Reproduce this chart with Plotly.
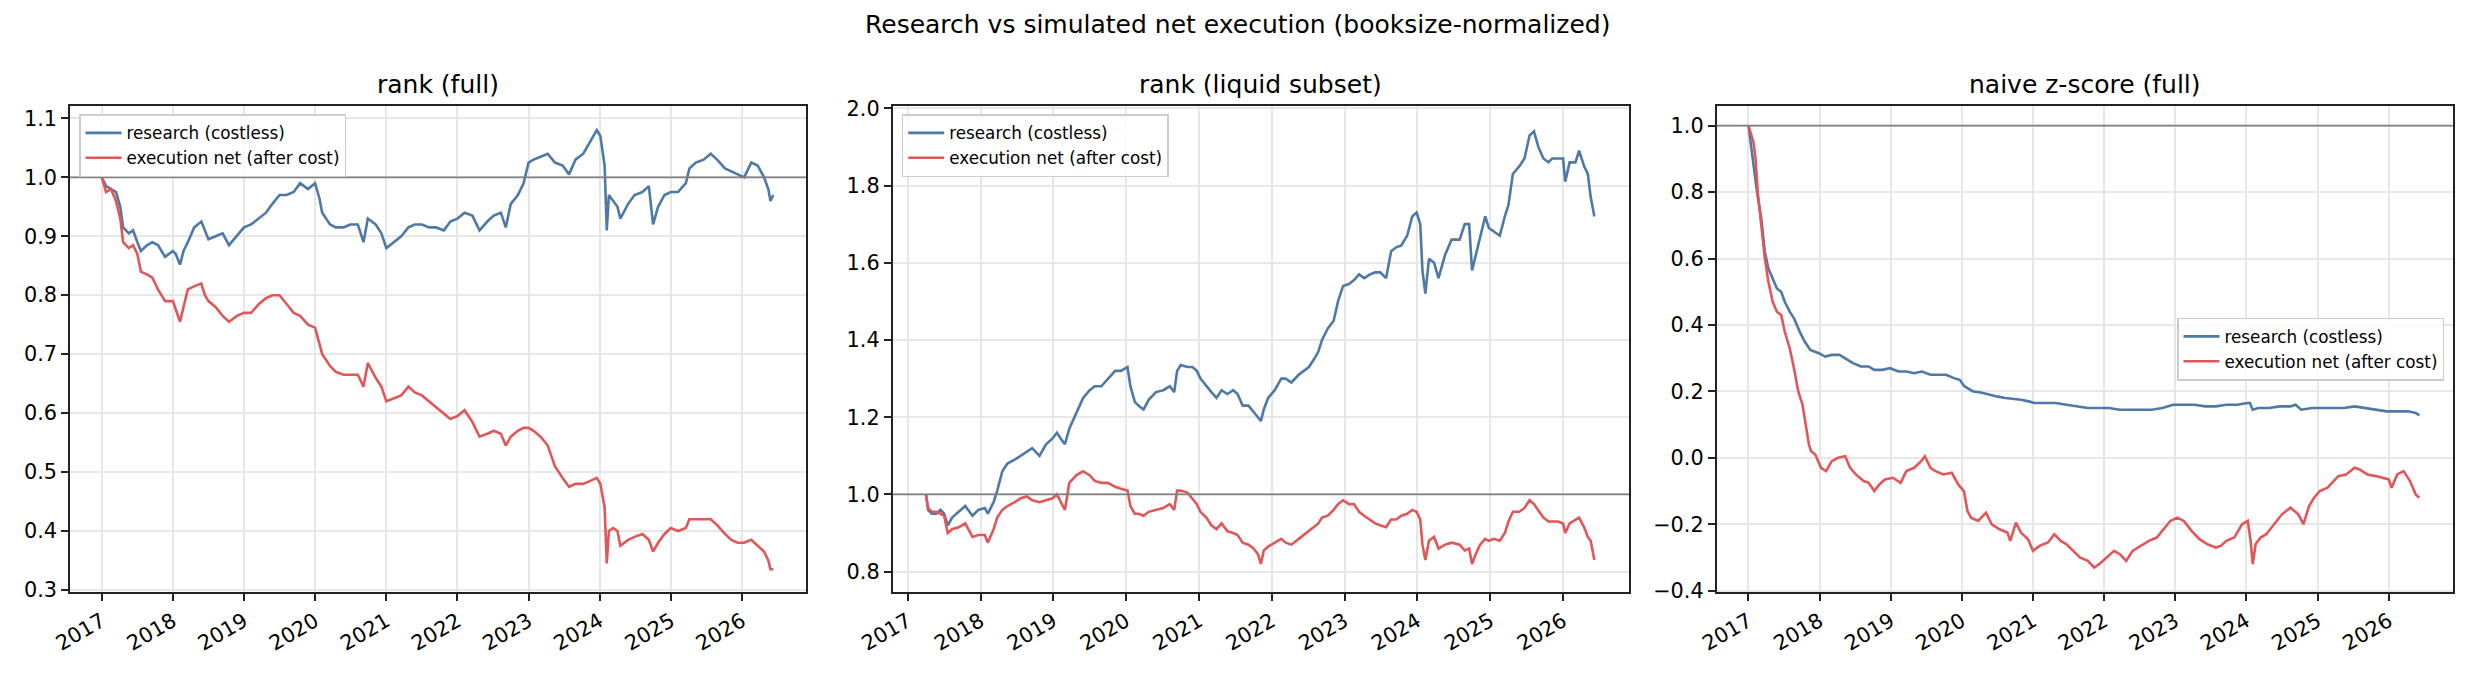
import numpy as np
import pandas as pd
import plotly.graph_objects as go

# ---------------- data (decimal years) ----------------
p1_years = [2017.00, 2017.06, 2017.13, 2017.20, 2017.26, 2017.30, 2017.38, 2017.44, 2017.50, 2017.55, 2017.64, 2017.71, 2017.79, 2017.89,
            2018.00, 2018.04, 2018.10, 2018.15, 2018.21, 2018.30, 2018.40, 2018.45, 2018.50, 2018.60, 2018.70, 2018.79, 2018.90,
            2019.00, 2019.10, 2019.21, 2019.31, 2019.40, 2019.50, 2019.60, 2019.70, 2019.79, 2019.90,
            2020.00, 2020.06, 2020.10, 2020.21, 2020.29, 2020.40, 2020.49, 2020.60, 2020.68, 2020.74, 2020.85, 2020.93,
            2021.00, 2021.10, 2021.21, 2021.31, 2021.40, 2021.50, 2021.60, 2021.70, 2021.81, 2021.90,
            2022.00, 2022.10, 2022.21, 2022.31, 2022.42, 2022.51, 2022.61, 2022.68, 2022.75, 2022.85, 2022.93,
            2023.00, 2023.07, 2023.17, 2023.27, 2023.37, 2023.48, 2023.57, 2023.66, 2023.77, 2023.87, 2023.96,
            2024.01, 2024.07, 2024.10, 2024.13, 2024.19, 2024.25, 2024.29, 2024.40, 2024.49, 2024.60, 2024.69, 2024.75, 2024.82, 2024.91,
            2025.00, 2025.10, 2025.21, 2025.26, 2025.35, 2025.46, 2025.56, 2025.65, 2025.76, 2025.85, 2025.94,
            2026.03, 2026.13, 2026.22, 2026.31, 2026.37, 2026.40, 2026.44]
p1_research = [1.0, 0.985, 0.98, 0.975, 0.95, 0.915, 0.905, 0.91, 0.89, 0.875, 0.885, 0.89, 0.885, 0.865,
               0.875, 0.87, 0.852, 0.875, 0.89, 0.915, 0.925, 0.91, 0.895, 0.9, 0.905, 0.885, 0.9,
               0.915, 0.92, 0.93, 0.94, 0.955, 0.97, 0.97, 0.975, 0.99, 0.98,
               0.99, 0.965, 0.94, 0.92, 0.915, 0.915, 0.92, 0.92, 0.89, 0.93, 0.92, 0.905,
               0.88, 0.89, 0.9, 0.915, 0.92, 0.92, 0.915, 0.915, 0.91, 0.925,
               0.93, 0.94, 0.935, 0.91, 0.925, 0.935, 0.94, 0.915, 0.955, 0.97, 0.99,
               1.025, 1.03, 1.035, 1.04, 1.025, 1.02, 1.005, 1.03, 1.04, 1.06, 1.08,
               1.07, 1.02, 0.91, 0.97, 0.96, 0.95, 0.93, 0.955, 0.97, 0.975, 0.985, 0.92, 0.95, 0.97,
               0.975, 0.975, 0.99, 1.015, 1.025, 1.03, 1.04, 1.03, 1.015, 1.01, 1.005,
               1.0, 1.025, 1.02, 1.0, 0.98, 0.96, 0.97]
p1_execution = [1.0, 0.975, 0.98, 0.96, 0.93, 0.89, 0.88, 0.885, 0.87, 0.84, 0.835, 0.83, 0.81, 0.79,
                0.79, 0.775, 0.755, 0.78, 0.81, 0.815, 0.82, 0.8, 0.79, 0.78, 0.765, 0.755, 0.765,
                0.77, 0.77, 0.785, 0.795, 0.8, 0.8, 0.785, 0.77, 0.765, 0.75,
                0.745, 0.72, 0.7, 0.68, 0.67, 0.665, 0.665, 0.665, 0.645, 0.685, 0.66, 0.645,
                0.62, 0.625, 0.63, 0.645, 0.635, 0.63, 0.62, 0.61, 0.6, 0.59,
                0.595, 0.605, 0.585, 0.56, 0.565, 0.57, 0.565, 0.545, 0.56, 0.57, 0.575,
                0.575, 0.57, 0.56, 0.545, 0.51, 0.49, 0.475, 0.48, 0.48, 0.485, 0.49,
                0.48, 0.44, 0.345, 0.4, 0.405, 0.4, 0.375, 0.385, 0.39, 0.395, 0.385, 0.365, 0.38, 0.395,
                0.405, 0.4, 0.405, 0.42, 0.42, 0.42, 0.42, 0.41, 0.395, 0.385, 0.38,
                0.38, 0.385, 0.375, 0.365, 0.35, 0.335, 0.335]

p2_years = [2017.25, 2017.28, 2017.33, 2017.39, 2017.45, 2017.50, 2017.55, 2017.61, 2017.70, 2017.79, 2017.89, 2017.97,
            2018.06, 2018.10, 2018.18, 2018.23, 2018.30, 2018.37, 2018.47, 2018.55, 2018.64, 2018.71, 2018.81, 2018.90, 2018.99,
            2019.05, 2019.12, 2019.16, 2019.22, 2019.32, 2019.41, 2019.50, 2019.57, 2019.66, 2019.75, 2019.85, 2019.93,
            2020.02, 2020.06, 2020.12, 2020.17, 2020.24, 2020.31, 2020.41, 2020.51, 2020.60, 2020.66, 2020.70, 2020.75, 2020.84, 2020.91, 2020.97,
            2021.02, 2021.10, 2021.17, 2021.24, 2021.31, 2021.39, 2021.47, 2021.53, 2021.60, 2021.68, 2021.75, 2021.81, 2021.85, 2021.89, 2021.95,
            2022.04, 2022.13, 2022.19, 2022.27, 2022.37, 2022.44, 2022.51, 2022.58, 2022.64, 2022.69, 2022.77, 2022.85, 2022.91, 2022.98,
            2023.06, 2023.13, 2023.20, 2023.27, 2023.35, 2023.42, 2023.49, 2023.57, 2023.64, 2023.71, 2023.78, 2023.86, 2023.93, 2023.99,
            2024.04, 2024.07, 2024.11, 2024.16, 2024.23, 2024.29, 2024.38, 2024.47, 2024.58, 2024.65, 2024.71, 2024.75, 2024.80, 2024.86, 2024.93, 2024.98,
            2025.05, 2025.13, 2025.20, 2025.25, 2025.31, 2025.40, 2025.47, 2025.54, 2025.60, 2025.66, 2025.73, 2025.80, 2025.85, 2025.93,
            2026.00, 2026.03, 2026.09, 2026.17, 2026.22, 2026.29, 2026.34, 2026.38, 2026.43]
p2_research = [1.0, 0.96, 0.95, 0.95, 0.96, 0.95, 0.92, 0.94, 0.955, 0.97, 0.945, 0.96,
               0.965, 0.95, 0.98, 1.01, 1.06, 1.08, 1.09, 1.1, 1.11, 1.12, 1.1, 1.13, 1.145,
               1.16, 1.14, 1.13, 1.17, 1.21, 1.25, 1.27, 1.28, 1.28, 1.30, 1.32, 1.32,
               1.33, 1.28, 1.24, 1.23, 1.22, 1.245, 1.265, 1.27, 1.28, 1.265, 1.32, 1.335, 1.33, 1.33, 1.32,
               1.3, 1.28, 1.265, 1.25, 1.27, 1.26, 1.27, 1.26, 1.23, 1.23, 1.215, 1.2, 1.19, 1.22, 1.25,
               1.27, 1.3, 1.3, 1.29, 1.31, 1.32, 1.33, 1.35, 1.37, 1.4, 1.43, 1.45, 1.5, 1.54,
               1.545, 1.555, 1.57, 1.56, 1.57, 1.575, 1.575, 1.56, 1.63, 1.64, 1.645, 1.67, 1.72, 1.73,
               1.70, 1.58, 1.52, 1.61, 1.6, 1.56, 1.62, 1.66, 1.66, 1.7, 1.7, 1.58, 1.62, 1.67, 1.72, 1.69,
               1.68, 1.67, 1.72, 1.75, 1.83, 1.85, 1.87, 1.93, 1.94, 1.9, 1.87, 1.86, 1.87, 1.87,
               1.87, 1.81, 1.86, 1.86, 1.89, 1.85, 1.83, 1.77, 1.72]
p2_execution = [1.0, 0.965, 0.955, 0.955, 0.95, 0.945, 0.9, 0.91, 0.915, 0.925, 0.89, 0.895,
                0.895, 0.875, 0.91, 0.94, 0.96, 0.97, 0.98, 0.99, 0.995, 0.985, 0.98, 0.985, 0.99,
                1.0, 0.975, 0.96, 1.03, 1.05, 1.06, 1.05, 1.035, 1.03, 1.03, 1.02, 1.015,
                1.01, 0.97, 0.95, 0.95, 0.945, 0.955, 0.96, 0.965, 0.975, 0.96, 1.01, 1.01, 1.005, 0.99, 0.975,
                0.955, 0.94, 0.92, 0.91, 0.925, 0.905, 0.9, 0.895, 0.875, 0.87, 0.86, 0.845, 0.82, 0.855, 0.865,
                0.875, 0.885, 0.875, 0.87, 0.885, 0.895, 0.905, 0.915, 0.925, 0.94, 0.945, 0.96, 0.975, 0.985,
                0.975, 0.975, 0.955, 0.945, 0.935, 0.925, 0.92, 0.915, 0.935, 0.935, 0.945, 0.95, 0.96, 0.955,
                0.935, 0.87, 0.83, 0.88, 0.89, 0.86, 0.87, 0.875, 0.87, 0.855, 0.86, 0.82, 0.845, 0.87, 0.885, 0.88,
                0.885, 0.88, 0.9, 0.93, 0.955, 0.955, 0.965, 0.985, 0.975, 0.96, 0.94, 0.93, 0.93, 0.93,
                0.925, 0.9, 0.925, 0.935, 0.94, 0.915, 0.89, 0.88, 0.83]

p3_research_years = [2017.00, 2017.03, 2017.07, 2017.12, 2017.18, 2017.23, 2017.28, 2017.34, 2017.40, 2017.46, 2017.51, 2017.58, 2017.64, 2017.72, 2017.79, 2017.87, 2017.99,
                     2018.08, 2018.17, 2018.28, 2018.36, 2018.47, 2018.58, 2018.69, 2018.77, 2018.88, 2018.99,
                     2019.11, 2019.22, 2019.33, 2019.44, 2019.56, 2019.67, 2019.78, 2019.89, 2019.97,
                     2020.04, 2020.16, 2020.27, 2020.38, 2020.49, 2020.61, 2020.72, 2020.83, 2020.94,
                     2021.02, 2021.17, 2021.32, 2021.47, 2021.62, 2021.77, 2021.92,
                     2022.07, 2022.22, 2022.37, 2022.52, 2022.67, 2022.82, 2022.97,
                     2023.12, 2023.27, 2023.42, 2023.57, 2023.72, 2023.87,
                     2024.02, 2024.05, 2024.09, 2024.17, 2024.32, 2024.47, 2024.62, 2024.69, 2024.77, 2024.92,
                     2025.07, 2025.22, 2025.37, 2025.52, 2025.67, 2025.82, 2025.97,
                     2026.12, 2026.27, 2026.38, 2026.43]
p3_research = [1.0, 0.95, 0.9, 0.8, 0.72, 0.62, 0.57, 0.54, 0.51, 0.5, 0.47, 0.44, 0.42, 0.38, 0.35, 0.325, 0.315,
               0.305, 0.31, 0.31, 0.3, 0.285, 0.275, 0.275, 0.265, 0.265, 0.27,
               0.26, 0.26, 0.255, 0.26, 0.25, 0.25, 0.25, 0.24, 0.235,
               0.215, 0.2, 0.197, 0.19, 0.185, 0.18, 0.178, 0.175, 0.17,
               0.165, 0.165, 0.165, 0.16, 0.155, 0.15, 0.15,
               0.15, 0.145, 0.145, 0.145, 0.145, 0.15, 0.16,
               0.16, 0.16, 0.155, 0.155, 0.16, 0.16,
               0.165, 0.165, 0.145, 0.15, 0.15, 0.155, 0.155, 0.16, 0.145, 0.15,
               0.15, 0.15, 0.15, 0.155, 0.15, 0.145, 0.14,
               0.14, 0.14, 0.135, 0.128]
p3_execution_years = [2017.00, 2017.03, 2017.07, 2017.10, 2017.13, 2017.18, 2017.23, 2017.28, 2017.34, 2017.40, 2017.46, 2017.51, 2017.58, 2017.64, 2017.70, 2017.76, 2017.81, 2017.85, 2017.88, 2017.94,
                      2018.02, 2018.09, 2018.17, 2018.26, 2018.36, 2018.43, 2018.51, 2018.62, 2018.69, 2018.77, 2018.84, 2018.92,
                      2019.03, 2019.14, 2019.22, 2019.33, 2019.43, 2019.48, 2019.56, 2019.63, 2019.74, 2019.86, 2019.95,
                      2020.03, 2020.08, 2020.13, 2020.23, 2020.34, 2020.42, 2020.53, 2020.64, 2020.68, 2020.76, 2020.83, 2020.93,
                      2021.00, 2021.09, 2021.21, 2021.30, 2021.39, 2021.47, 2021.56, 2021.66, 2021.77, 2021.86, 2021.93,
                      2022.03, 2022.14, 2022.22, 2022.31, 2022.40, 2022.52, 2022.63, 2022.74, 2022.82, 2022.93,
                      2023.03, 2023.12, 2023.23, 2023.34, 2023.45, 2023.57, 2023.64, 2023.72, 2023.83, 2023.94,
                      2024.02, 2024.06, 2024.09, 2024.13, 2024.20, 2024.28, 2024.39, 2024.50, 2024.62, 2024.73, 2024.80, 2024.88, 2024.95,
                      2025.03, 2025.14, 2025.22, 2025.29, 2025.40, 2025.52, 2025.59, 2025.70, 2025.82, 2025.93,
                      2026.00, 2026.04, 2026.12, 2026.21, 2026.30, 2026.38, 2026.43]
p3_execution = [1.0, 0.98, 0.95, 0.9, 0.8, 0.7, 0.6, 0.53, 0.47, 0.44, 0.43, 0.38, 0.33, 0.27, 0.2, 0.16, 0.1, 0.04, 0.02, 0.01,
                -0.03, -0.04, -0.01, 0.0, 0.005, -0.03, -0.05, -0.07, -0.075, -0.1, -0.08, -0.065,
                -0.06, -0.075, -0.04, -0.03, -0.01, 0.005, -0.03, -0.04, -0.05, -0.045, -0.08,
                -0.1, -0.16, -0.18, -0.19, -0.165, -0.2, -0.215, -0.225, -0.25, -0.195, -0.225, -0.245,
                -0.28, -0.265, -0.255, -0.23, -0.25, -0.26, -0.28, -0.3, -0.31, -0.33, -0.32,
                -0.3, -0.28, -0.29, -0.31, -0.28, -0.265, -0.25, -0.24, -0.22, -0.19,
                -0.18, -0.19, -0.22, -0.245, -0.26, -0.27, -0.265, -0.25, -0.24, -0.2,
                -0.19, -0.25, -0.32, -0.26, -0.24, -0.23, -0.2, -0.17, -0.15, -0.17, -0.2, -0.145, -0.12,
                -0.1, -0.09, -0.07, -0.055, -0.05, -0.03, -0.035, -0.05, -0.055, -0.06,
                -0.065, -0.09, -0.05, -0.04, -0.07, -0.11, -0.12]

subplot_titles = ["rank (full)", "rank (liquid subset)", "naive z-score (full)"]
suptitle = "Research vs simulated net execution (booksize-normalized)"
name_research = "research (costless)"
name_execution = "execution net (after cost)"
year_ticks = list(range(2017, 2027))


def dec_to_date(y):
    yr = int(np.floor(y))
    start = pd.Timestamp(year=yr, month=1, day=1)
    ndays = (pd.Timestamp(year=yr + 1, month=1, day=1) - start).days
    return start + pd.Timedelta(days=(y - yr) * ndays)


def dates(arr):
    return [dec_to_date(v) for v in arr]


# ---------------- style / layout ----------------
W, H = 2475, 675
FONT = "DejaVu Sans"
BLUE = "#4e79a7"
RED = "#e15759"
LW = 2.6
TITLE_SIZE = 25
TICK_SIZE = 20.8
LEGEND_SIZE = 16.8

x_px = [(70, 806), (892.7, 1629), (1716.7, 2452.7)]
y_top, y_bot = 105.7, 592.3
x_ranges = [(2016.554, 2026.900), (2016.794, 2026.906), (2016.554, 2026.900)]
y_ranges = [(0.296, 1.1215), (0.7466, 2.0067), (-0.4048, 1.0602)]
y_dticks = [0.1, 0.2, 0.2]

fig = go.Figure()

series = [
    (p1_years, p1_research, p1_years, p1_execution),
    (p2_years, p2_research, p2_years, p2_execution),
    (p3_research_years, p3_research, p3_execution_years, p3_execution),
]
legend_ids = ["legend", "legend2", "legend3"]

for i, (rx, ry, ex, ey) in enumerate(series):
    xa = "x" if i == 0 else f"x{i+1}"
    ya = "y" if i == 0 else f"y{i+1}"
    fig.add_trace(go.Scatter(x=dates(rx), y=ry, mode="lines", name=name_research,
                             line=dict(color=BLUE, width=LW), xaxis=xa, yaxis=ya,
                             legend=legend_ids[i]))
    fig.add_trace(go.Scatter(x=dates(ex), y=ey, mode="lines", name=name_execution,
                             line=dict(color=RED, width=LW), xaxis=xa, yaxis=ya,
                             legend=legend_ids[i]))
    fig.add_shape(type="line", xref=f"{xa} domain", yref=ya, x0=0, x1=1, y0=1.0, y1=1.0,
                  line=dict(color="#808080", width=1.8), layer="above")

dom_y = [1 - y_bot / H, 1 - y_top / H]
axis_common = dict(showline=True, linecolor="#222222", linewidth=1.7, mirror=True,
                   ticks="outside", ticklen=7, tickwidth=1.6, tickcolor="#222222",
                   showgrid=True, gridcolor="#e7e7e7", gridwidth=1.5, zeroline=False,
                   automargin=False,
                   tickfont=dict(family=FONT, size=TICK_SIZE, color="#000000"))

layout = dict(template="none", width=W, height=H, margin=dict(l=0, r=0, t=0, b=0, pad=0),
              paper_bgcolor="white", plot_bgcolor="white",
              font=dict(family=FONT, color="#000000"))

for i in range(3):
    sfx = "" if i == 0 else str(i + 1)
    x0, x1 = x_px[i]
    layout[f"xaxis{sfx}"] = dict(
        domain=[x0 / W, x1 / W], anchor=f"y{sfx}", type="date",
        range=[dec_to_date(x_ranges[i][0]), dec_to_date(x_ranges[i][1])],
        tickvals=[pd.Timestamp(year=y, month=1, day=1) for y in year_ticks],
        ticktext=[str(y) for y in year_ticks], tickangle=-30, **axis_common)
    layout[f"yaxis{sfx}"] = dict(
        domain=dom_y, anchor=f"x{sfx}", range=list(y_ranges[i]),
        dtick=y_dticks[i], tick0=0, tickformat=".1f", **axis_common)

leg_common = dict(font=dict(family=FONT, size=LEGEND_SIZE, color="#000000"),
                  bgcolor="rgba(255,255,255,0.85)", bordercolor="#cccccc", borderwidth=1.5,
                  itemwidth=36, tracegroupgap=2)
layout["legend"] = dict(x=79 / W, y=1 - 114 / H, xanchor="left", yanchor="top", **leg_common)
layout["legend2"] = dict(x=901.7 / W, y=1 - 114 / H, xanchor="left", yanchor="top", **leg_common)
layout["legend3"] = dict(x=2444 / W, y=1 - 349 / H, xanchor="right", yanchor="middle", **leg_common)

fig.update_layout(**layout)

annotations = [dict(text=suptitle, x=0.5, y=1 - 24.7 / H, xref="paper", yref="paper",
                    xanchor="center", yanchor="middle", showarrow=False,
                    font=dict(family=FONT, size=TITLE_SIZE, color="#000000"))]
for i, t in enumerate(subplot_titles):
    x0, x1 = x_px[i]
    annotations.append(dict(text=t, x=(x0 + x1) / 2 / W, y=1 - 85 / H, xref="paper", yref="paper",
                            xanchor="center", yanchor="middle", showarrow=False,
                            font=dict(family=FONT, size=TITLE_SIZE, color="#000000")))
fig.update_layout(annotations=annotations)

fig.write_html("out.html")
